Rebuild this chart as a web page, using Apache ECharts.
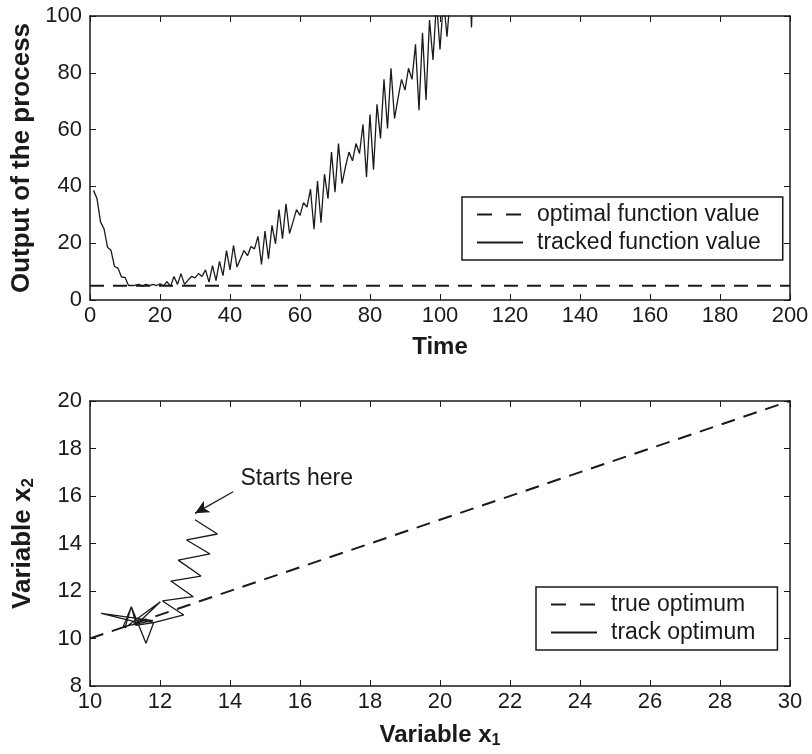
<!DOCTYPE html>
<html><head><meta charset="utf-8">
<script src="https://cdn.jsdelivr.net/npm/echarts@6/dist/echarts.min.js"></script>
<style>html,body{margin:0;padding:0;background:#fff}#c{width:812px;height:754px}</style>
</head><body><div id="c"></div>
<script>
// ---- Top panel data ----
const timeSteps = [1,2,3,4,5,6,7,8,9,10,11,12,13,14,15,16,17,18,19,20,21,22,23,24,25,26,27,28,29,30,31,32,33,34,35,36,37,38,39,40,41,42,43,44,45,46,47,48,49,50,51,52,53,54,55,56,57,58,59,60,61,62,63,64,65,66,67,68,69,70,71,72,73,74,75,76,77,78,79,80,81,82,83,84,85,86,87,88,89,90,91,92,93,94,95,96,97,98,99,100,101,102,103,104,105,106,107,108,109,110,111];
const trackedOutput = [38.6,35.7,27.5,25.1,18.6,17.5,11.8,11.2,8.1,8.0,5.1,5.1,5.2,5.5,4.8,5.5,5.1,5.5,5.1,5.7,5.0,6.5,4.8,8.3,5.5,9.3,5.5,7.0,8.3,7.8,9.3,8.3,10.6,6.3,12.1,6.8,13.6,8.6,17.4,10.6,19.2,11.6,14.5,17.4,15.6,18.8,18.0,22.4,12.5,24.3,14.5,26.3,19.8,31.8,21.6,33.9,23.4,27.5,31.8,29.8,34.3,32.7,39.0,24.9,41.9,27.2,44.3,35.7,52.1,38.0,55.1,41.0,47.0,52.1,49.0,55.1,51.6,61.9,43.3,65.3,45.9,68.9,56.9,77.7,60.4,81.6,63.9,71.0,77.7,73.9,81.6,77.7,90.0,66.8,94.1,70.4,98.6,84.5,105,88.2,106,92.7,108,118,112,125,118,130,96,135,140];
const optimalTime = [0, 200];
const optimalOutput = [5, 5];

// ---- Bottom panel data ----
const trueOptX1 = [10, 30];
const trueOptX2 = [10, 20];
const trackX1 = [13.0,13.64,12.76,13.43,12.52,13.17,12.31,12.95,12.07,12.68,11.82,11.6,11.18,10.95,11.8,10.32,11.3,11.18,11.0,12.01,11.3,11.82,11.4,11.3];
const trackX2 = [15.0,14.4,14.15,13.56,13.3,12.63,12.42,11.76,11.58,10.99,10.67,9.8,11.34,10.5,10.75,11.06,10.7,11.34,10.45,11.55,10.55,10.67,10.8,10.6];
const annotationText = 'Starts here';
const arrowFrom = [14.09, 16.18];
const arrowTo = [13.0, 15.27];
const annotationAt = [14.3, 16.72];

const FONT = '"Liberation Sans", Arial, Helvetica, sans-serif';
const INK = '#1a1a1a';

function zip(a, b) { return a.map((v, i) => [v, b[i]]); }

function mainAxis(gridIndex, min, max, interval, name, pos, rich) {
  const horiz = pos === 'bottom';
  return {
    type: 'value', gridIndex, min, max, interval, position: pos,
    name, nameLocation: 'middle',
    nameGap: horiz ? 35 : 53,
    nameTextStyle: {fontFamily: FONT, fontWeight: 'bold', fontSize: horiz ? 24 : 26, color: INK, rich: rich},
    axisLine: {show: true, onZero: false, lineStyle: {color: INK, width: 1.5}},
    axisTick: {show: true, inside: true, length: 6, lineStyle: {color: INK, width: 1}},
    axisLabel: {fontFamily: FONT, fontSize: 22, color: INK, margin: horiz ? 5 : 8},
    splitLine: {show: false}
  };
}
function mirrorAxis(gridIndex, min, max, interval, pos) {
  return {
    type: 'value', gridIndex, min, max, interval, position: pos,
    axisLine: {show: true, onZero: false, lineStyle: {color: INK, width: 1.5}},
    axisTick: {show: true, inside: true, length: 6, lineStyle: {color: INK, width: 1}},
    axisLabel: {show: false},
    splitLine: {show: false}
  };
}

const dashStyle = {color: INK, width: 2, type: [14, 9]};
const solidStyle = {color: INK, width: 1.3};
const legendDash = {type: [15, 14], width: 2, color: INK};

const subRichH = {
  sub: {fontFamily: FONT, fontWeight: 'bold', fontSize: 16, color: INK, verticalAlign: 'bottom', padding: [12, 0, 0, 0]}
};
const subRichV = {
  sub: {fontFamily: FONT, fontWeight: 'bold', fontSize: 17, color: INK, verticalAlign: 'bottom', padding: [12, 0, 0, 0]}
};

function legendBox(names, left, top) {
  return {
    data: [
      {name: names[0], lineStyle: legendDash},
      {name: names[1]}
    ],
    left, top, orient: 'vertical', itemGap: 5,
    itemWidth: 46, itemHeight: 14,
    padding: [6, 22, 6, 14],
    borderColor: INK, borderWidth: 1.5, borderRadius: 0,
    itemStyle: {opacity: 0, borderWidth: 0},
    textStyle: {fontFamily: FONT, fontSize: 23, color: INK, padding: [0, 0, 0, 9]}
  };
}

const option = {
  backgroundColor: '#fff',
  animation: false,
  grid: [
    {left: 90, top: 16, width: 700, height: 284},
    {left: 90, top: 401, width: 700, height: 285}
  ],
  xAxis: [
    mainAxis(0, 0, 200, 20, 'Time', 'bottom'),
    mirrorAxis(0, 0, 200, 20, 'top'),
    mainAxis(1, 10, 30, 2, 'Variable x{sub|1}', 'bottom', subRichH),
    mirrorAxis(1, 10, 30, 2, 'top')
  ],
  yAxis: [
    mainAxis(0, 0, 100, 20, 'Output of the process', 'left'),
    mirrorAxis(0, 0, 100, 20, 'right'),
    mainAxis(1, 8, 20, 2, 'Variable x{sub|2}', 'left', subRichV),
    mirrorAxis(1, 8, 20, 2, 'right')
  ],
  legend: [
    legendBox(['optimal function value', 'tracked function value'], 462, 197),
    legendBox(['true optimum', 'track optimum'], 536, 587)
  ],
  series: [
    {
      name: 'optimal function value', type: 'line', xAxisIndex: 0, yAxisIndex: 0,
      data: zip(optimalTime, optimalOutput), symbol: 'none', lineStyle: dashStyle, itemStyle: {color: INK}
    },
    {
      name: 'tracked function value', type: 'line', xAxisIndex: 0, yAxisIndex: 0,
      data: zip(timeSteps, trackedOutput), symbol: 'none', lineStyle: solidStyle, itemStyle: {color: INK}, clip: true
    },
    {
      name: 'true optimum', type: 'line', xAxisIndex: 2, yAxisIndex: 2,
      data: zip(trueOptX1, trueOptX2), symbol: 'none', lineStyle: dashStyle, itemStyle: {color: INK}
    },
    {
      name: 'track optimum', type: 'line', xAxisIndex: 2, yAxisIndex: 2,
      data: zip(trackX1, trackX2), symbol: 'none', lineStyle: solidStyle, itemStyle: {color: INK},
      markLine: {
        silent: true, symbol: ['none', 'arrow'], symbolSize: [10, 14],
        lineStyle: {color: INK, width: 1.3, type: 'solid'},
        label: {show: false},
        data: [[{coord: arrowFrom}, {coord: arrowTo}]]
      },
      markPoint: {
        silent: true, symbol: 'circle', symbolSize: 0,
        label: {show: true, position: 'right', distance: 0, formatter: annotationText,
          fontFamily: FONT, fontSize: 23, color: INK},
        data: [{coord: annotationAt}]
      }
    }
  ]
};

const chart = echarts.init(document.getElementById('c'), null, {renderer: 'canvas'});
chart.setOption(option);
</script>
</body></html>
